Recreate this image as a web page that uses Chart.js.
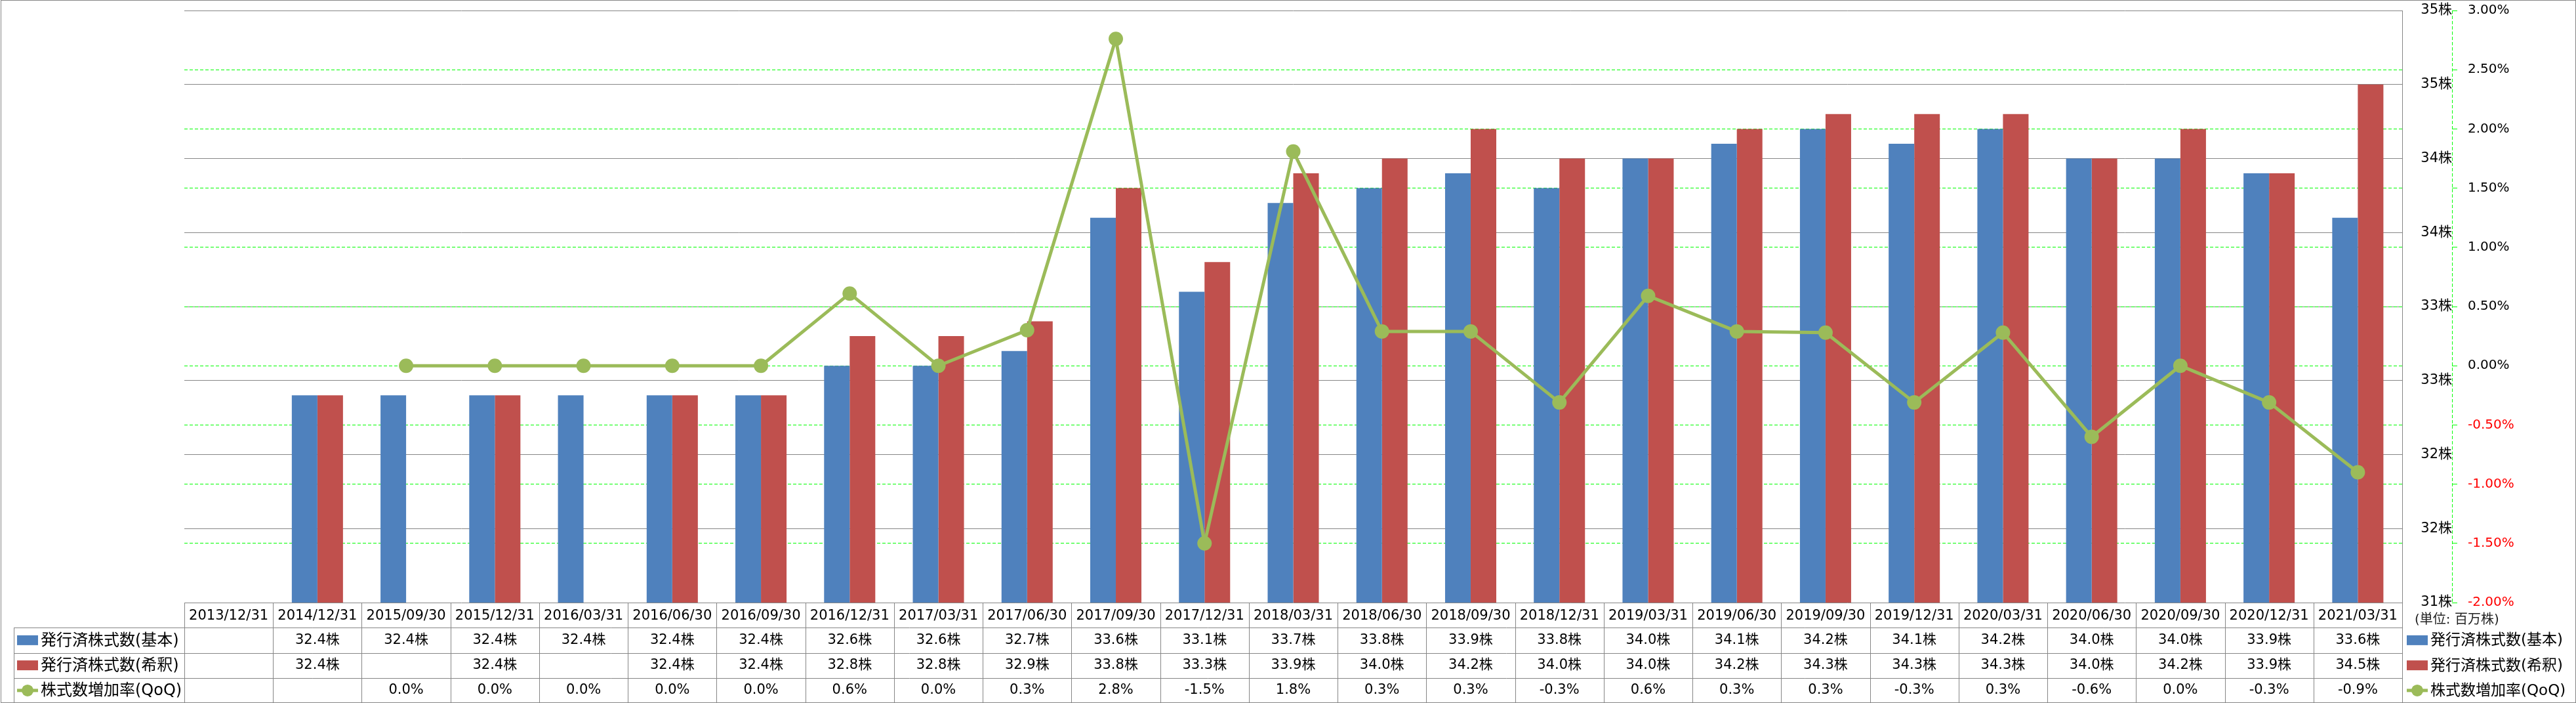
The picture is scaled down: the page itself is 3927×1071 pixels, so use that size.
<!DOCTYPE html>
<html>
<head>
<meta charset="utf-8">
<title>発行済株式数</title>
<script src="https://cdn.jsdelivr.net/npm/chart.js@4.4.1/dist/chart.umd.min.js"></script>
<style>
    html, body { margin: 0; padding: 0; background: #fff; }
    canvas { display: block; }
</style>
</head>
<body>
<canvas id="sharesChart" width="3927" height="1071"></canvas>
<script>
// ---------------------------------------------------------
// DATA
// ---------------------------------------------------------
const categories = [
    '2013/12/31', '2014/12/31', '2015/09/30', '2015/12/31', '2016/03/31',
    '2016/06/30', '2016/09/30', '2016/12/31', '2017/03/31', '2017/06/30',
    '2017/09/30', '2017/12/31', '2018/03/31', '2018/06/30', '2018/09/30',
    '2018/12/31', '2019/03/31', '2019/06/30', '2019/09/30', '2019/12/31',
    '2020/03/31', '2020/06/30', '2020/09/30', '2020/12/31', '2021/03/31'
];

// 単位: 百万株
const sharesBasic = [
    null, 32.4, 32.4, 32.4, 32.4, 32.4, 32.4, 32.6, 32.6, 32.7,
    33.6, 33.1, 33.7, 33.8, 33.9, 33.8, 34.0, 34.1, 34.2, 34.1,
    34.2, 34.0, 34.0, 33.9, 33.6
];
const sharesDiluted = [
    null, 32.4, null, 32.4, null, 32.4, 32.4, 32.8, 32.8, 32.9,
    33.8, 33.3, 33.9, 34.0, 34.2, 34.0, 34.0, 34.2, 34.3, 34.3,
    34.3, 34.0, 34.2, 33.9, 34.5
];
// QoQ (%)
const growthQoQ = [
    null, null, 0.0, 0.0, 0.0, 0.0, 0.0, 0.61, 0.0, 0.30,
    2.76, -1.50, 1.81, 0.29, 0.29, -0.31, 0.59, 0.29, 0.28, -0.31,
    0.28, -0.60, 0.0, -0.31, -0.90
];

const seriesNames = ['発行済株式数(基本)', '発行済株式数(希釈)', '株式数増加率(QoQ)'];
const unitLabel = '(単位: 百万株)';

// axis ranges
const sharesAxis = { min: 31, max: 35, step: 0.5 };
const growthAxis = { min: -2, max: 3, step: 0.5 };

// ---------------------------------------------------------
// STYLE
// ---------------------------------------------------------
const BLUE = '#4F81BD';
const RED = '#C0504D';
const GREEN = '#9BBB59';
const GRID_GRAY = '#868686';
const GRID_GREEN = '#00FF00';
const FONT = "'DejaVu Sans', 'Noto Sans CJK JP', sans-serif";
const TABLE_LEFT = 21;

Chart.defaults.font.family = FONT;
Chart.defaults.color = '#000';

const fmtShares = v => v.toFixed(1) + '株';
const fmtGrowth = v => v.toFixed(1) + '%';

// ---------------------------------------------------------
// DRAW HELPERS
// ---------------------------------------------------------
function hline(ctx, x1, x2, y) {
    ctx.beginPath(); ctx.moveTo(x1, y); ctx.lineTo(x2, y); ctx.stroke();
}
function vline(ctx, x, y1, y2) {
    ctx.beginPath(); ctx.moveTo(x, y1); ctx.lineTo(x, y2); ctx.stroke();
}
function drawSymbol(ctx, kind, x, y) {
    if (kind === 2) {
        ctx.strokeStyle = GREEN;
        ctx.lineWidth = 5;
        hline(ctx, x, x + 32, y);
        ctx.fillStyle = GREEN;
        ctx.beginPath(); ctx.arc(x + 16, y, 9, 0, Math.PI * 2); ctx.fill();
    } else {
        ctx.fillStyle = kind === 0 ? BLUE : RED;
        ctx.fillRect(x, y - 7.5, 32, 15);
    }
}

// labels sit beside the axes; don't let them push the plot area in
function fixAxis(width) {
    return s => {
        s.width = width;
        s.paddingTop = 0;
        s.paddingBottom = 0;
    };
}

// ---------------------------------------------------------
// DATA TABLE + LEGEND + FRAME
// ---------------------------------------------------------
const tablePlugin = {
    id: 'dataTable',
    beforeDraw(chart) {
        const ctx = chart.ctx;
        ctx.save();
        ctx.fillStyle = '#fff';
        ctx.fillRect(0, 0, chart.width, chart.height);
        ctx.restore();
    },
    afterDraw(chart) {
        const { ctx, chartArea } = chart;
        const xs = chart.scales.x;
        const y1s = chart.scales.y1;
        const n = categories.length;
        const colW = xs.width / n;
        const top = chartArea.bottom;
        const bottom = chart.height - 0.5;
        const rowH = (chart.height - top) / 4;

        ctx.save();

        // table grid
        ctx.strokeStyle = GRID_GRAY;
        ctx.lineWidth = 1;
        for (let r = 1; r <= 4; r++) {
            const yy = r === 4 ? bottom : Math.round(top + r * rowH) + 0.5;
            hline(ctx, TABLE_LEFT, xs.right, yy);
        }
        for (let i = 0; i <= n; i++) {
            const xx = Math.round(xs.left + i * colW) + 0.5;
            vline(ctx, xx, top, bottom);
        }
        vline(ctx, TABLE_LEFT + 0.5, top + rowH, bottom);

        // table values
        const rows = [
            { data: sharesBasic, fmt: fmtShares },
            { data: sharesDiluted, fmt: fmtShares },
            { data: growthQoQ, fmt: fmtGrowth }
        ];
        ctx.fillStyle = '#000';
        ctx.font = '21px ' + FONT;
        ctx.textAlign = 'center';
        ctx.textBaseline = 'middle';
        rows.forEach((row, r) => {
            const cy = top + (r + 1.5) * rowH;
            row.data.forEach((v, i) => {
                if (v === null) return;
                ctx.fillText(row.fmt(v), xs.getPixelForValue(i), cy);
            });
        });

        // row headers (legend keys)
        ctx.textAlign = 'left';
        ctx.font = '24px ' + FONT;
        seriesNames.forEach((name, r) => {
            const cy = top + (r + 1.5) * rowH;
            drawSymbol(ctx, r, TABLE_LEFT + 5, cy);
            ctx.fillStyle = '#000';
            ctx.fillText(name, TABLE_LEFT + 41, cy + 1);
        });

        // legend on the right, under the axes
        const lx = chartArea.right + 7;
        ctx.font = '20px ' + FONT;
        ctx.fillStyle = '#222';
        ctx.fillText(unitLabel, chartArea.right + 19, top + 27);
        ctx.font = '23px ' + FONT;
        seriesNames.forEach((name, r) => {
            const cy = top + (r + 1.5) * rowH;
            drawSymbol(ctx, r, lx, cy);
            ctx.fillStyle = '#000';
            ctx.fillText(name, lx + 36, cy + 1);
        });

        // dashed axis line of the % axis
        ctx.strokeStyle = GRID_GREEN;
        ctx.lineWidth = 1;
        ctx.setLineDash([5, 3]);
        vline(ctx, Math.round(y1s.left) + 0.5, y1s.top, y1s.bottom);
        ctx.setLineDash([]);

        // outer frame
        ctx.strokeStyle = GRID_GRAY;
        ctx.strokeRect(1.5, 0.5, chart.width - 2, chart.height - 1);

        ctx.restore();
    }
};

// ---------------------------------------------------------
// CHART
// ---------------------------------------------------------
const chart = new Chart(document.getElementById('sharesChart'), {
    type: 'bar',
    data: {
        labels: categories,
        datasets: [
            {
                type: 'line',
                label: seriesNames[2],
                data: growthQoQ,
                yAxisID: 'y1',
                order: 0,
                borderColor: GREEN,
                borderWidth: 5,
                pointRadius: 11,
                pointHoverRadius: 11,
                pointBackgroundColor: GREEN,
                pointBorderWidth: 0,
                tension: 0
            },
            {
                label: seriesNames[0],
                data: sharesBasic,
                yAxisID: 'y',
                order: 1,
                backgroundColor: BLUE,
                borderWidth: 0,
                categoryPercentage: 0.577,
                barPercentage: 1.0
            },
            {
                label: seriesNames[1],
                data: sharesDiluted,
                yAxisID: 'y',
                order: 2,
                backgroundColor: RED,
                borderWidth: 0,
                categoryPercentage: 0.577,
                barPercentage: 1.0
            }
        ]
    },
    options: {
        responsive: false,
        animation: false,
        devicePixelRatio: 1,
        layout: { autoPadding: false, padding: { left: 281, top: 16, right: 0, bottom: 0 } },
        plugins: {
            legend: { display: false },
            tooltip: { enabled: false }
        },
        scales: {
            x: {
                position: 'bottom',
                grid: { display: false, drawTicks: false },
                border: { display: false },
                ticks: {
                    autoSkip: false,
                    maxRotation: 0,
                    padding: 8,
                    color: '#000',
                    font: { size: 21 }
                },
                afterFit: s => { s.height = 153; }
            },
            y: {
                position: 'right',
                weight: 0,
                min: sharesAxis.min,
                max: sharesAxis.max,
                grid: { color: GRID_GRAY, lineWidth: 1, drawTicks: false },
                border: { display: true, color: GRID_GRAY, width: 1 },
                ticks: {
                    stepSize: sharesAxis.step,
                    crossAlign: 'far',
                    padding: 26,
                    color: '#000',
                    font: { size: 21 },
                    callback: v => Math.round(v) + '株'
                },
                afterFit: fixAxis(76)
            },
            y1: {
                position: 'right',
                weight: 1,
                min: growthAxis.min,
                max: growthAxis.max,
                grid: {
                    // top and bottom edges belong to the gray frame / table
                    color: c => (c.tick && (c.tick.value >= growthAxis.max || c.tick.value <= growthAxis.min))
                        ? 'rgba(0,0,0,0)' : GRID_GREEN,
                    lineWidth: 1,
                    drawTicks: true,
                    tickLength: 8,
                    tickColor: GRID_GREEN
                },
                border: { display: false, dash: [5, 3] },
                ticks: {
                    stepSize: growthAxis.step,
                    padding: 16,
                    font: { size: 20 },
                    color: c => (c.tick && c.tick.value < -1e-9) ? '#FF0000' : '#000',
                    callback: v => (Math.abs(v) < 1e-9 ? 0 : v).toFixed(2) + '%'
                },
                afterFit: fixAxis(189)
            }
        }
    },
    plugins: [tablePlugin]
});
</script>
</body>
</html>
